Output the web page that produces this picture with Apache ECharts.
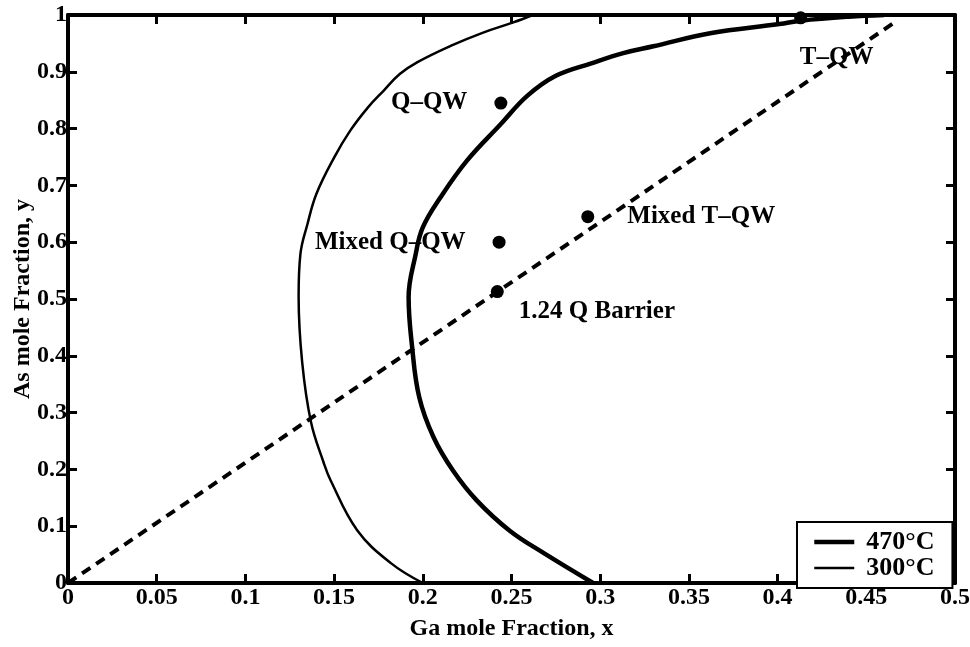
<!DOCTYPE html>
<html>
<head>
<meta charset="utf-8">
<title>InGaAsP composition</title>
<script src="https://cdn.jsdelivr.net/npm/echarts@6/dist/echarts.min.js"></script>
<style>
  html, body { margin: 0; padding: 0; background: #fff; }
  #chart { width: 970px; height: 647px; }
</style>
</head>
<body>
<div id="chart"></div>
<script>
// Boundary curve at 470°C (Ga fraction x, As fraction y)
const curve470X = [0.296, 0.268, 0.249, 0.2305, 0.217, 0.206, 0.198, 0.194, 0.192, 0.196, 0.200, 0.210, 0.225, 0.244, 0.259, 0.275, 0.295, 0.313, 0.330, 0.362, 0.401, 0.413, 0.440, 0.460];
const curve470Y = [0.000, 0.053, 0.092, 0.145, 0.198, 0.257, 0.327, 0.415, 0.503, 0.579, 0.626, 0.679, 0.744, 0.808, 0.858, 0.893, 0.915, 0.933, 0.945, 0.968, 0.984, 0.990, 0.997, 1.000];

// Boundary curve at 300°C
const curve300X = [0.200, 0.182, 0.163, 0.148, 0.144, 0.137, 0.132, 0.130, 0.131, 0.135, 0.140, 0.150, 0.159, 0.169, 0.178, 0.187, 0.197, 0.216, 0.234, 0.251, 0.262];
const curve300Y = [0.000, 0.035, 0.093, 0.181, 0.213, 0.283, 0.389, 0.505, 0.579, 0.632, 0.685, 0.749, 0.796, 0.837, 0.867, 0.896, 0.917, 0.946, 0.969, 0.987, 1.000];

// Lattice-matched composition line
const latticeX = [0, 0.465];
const latticeY = [0, 0.985];

// Marked compositions
const pointNames = ['Q–QW', 'Mixed Q–QW', '1.24 Q Barrier', 'Mixed T–QW', 'T–QW'];
const pointX = [0.244, 0.243, 0.242, 0.293, 0.413];
const pointY = [0.845, 0.600, 0.513, 0.645, 0.995];

// Axis ticks
const xTicks = { min: 0, max: 0.5, step: 0.05 };
const yTicks = { min: 0, max: 1, step: 0.1 };

const legendNames = ['470°C', '300°C'];
const legendLineWidths = [4.5, 2.5];

const FONT = '"Liberation Serif", "DejaVu Serif", serif';
const pairs = (xs, ys) => xs.map((x, i) => [x, ys[i]]);

// label placement for each marked point
const labelPlacement = [
  { position: 'left', offset: [-22, 0] },
  { position: 'left', offset: [-22, 0] },
  { position: 'right', offset: [10, 20] },
  { position: 'right', offset: [28, 0] },
  { position: 'bottom', offset: [36, 16] }
];

const axisLine = { show: true, onZero: false, lineStyle: { color: '#000', width: 4 } };
const tickIn = { show: true, inside: true, length: 9, lineStyle: { color: '#000', width: 3 } };

const chart = echarts.init(document.getElementById('chart'), null, { renderer: 'canvas' });

chart.setOption({
  animation: false,
  backgroundColor: '#fff',
  grid: { left: 68, right: 15, top: 15, bottom: 64, containLabel: false, outerBoundsMode: 'none' },
  legend: {
    data: legendNames.map((name, i) => ({ name, lineStyle: { width: legendLineWidths[i], color: '#000' } })),
    orient: 'vertical',
    left: 797,
    top: 522,
    padding: [7, 18, 7, 15],
    itemGap: 0,
    itemWidth: 40,
    itemHeight: 14,
    borderColor: '#000',
    borderWidth: 2,
    backgroundColor: '#fff',
    itemStyle: { opacity: 0 },
    textStyle: { fontFamily: FONT, fontSize: 26, fontWeight: 'bold', color: '#000', lineHeight: 26, padding: [0, 0, 0, 7] },
    selectedMode: false
  },
  xAxis: [
    {
      type: 'value', min: xTicks.min, max: xTicks.max, interval: xTicks.step,
      name: 'Ga mole Fraction, x', nameLocation: 'middle', nameGap: 34, nameMoveOverlap: false,
      nameTextStyle: { fontFamily: FONT, fontSize: 24, fontWeight: 'bold', color: '#000' },
      axisLine, axisTick: tickIn, splitLine: { show: false },
      axisLabel: { fontFamily: FONT, fontSize: 24, fontWeight: 'bold', color: '#000', margin: 3 }
    },
    {
      type: 'value', position: 'top', min: xTicks.min, max: xTicks.max, interval: xTicks.step,
      axisLine, axisTick: tickIn, splitLine: { show: false }, axisLabel: { show: false }
    }
  ],
  yAxis: [
    {
      type: 'value', min: yTicks.min, max: yTicks.max, interval: yTicks.step,
      name: 'As mole Fraction, y', nameLocation: 'middle', nameGap: 33, nameMoveOverlap: false,
      nameTextStyle: { fontFamily: FONT, fontSize: 24, fontWeight: 'bold', color: '#000' },
      axisLine, axisTick: tickIn, splitLine: { show: false },
      axisLabel: { fontFamily: FONT, fontSize: 24, fontWeight: 'bold', color: '#000', margin: 1 }
    },
    {
      type: 'value', position: 'right', min: yTicks.min, max: yTicks.max, interval: yTicks.step,
      axisLine, axisTick: tickIn, splitLine: { show: false }, axisLabel: { show: false }
    }
  ],
  series: [
    {
      name: legendNames[0], type: 'line', smooth: 0.4, symbol: 'none',
      data: pairs(curve470X, curve470Y),
      lineStyle: { color: '#000', width: 4.5 }, itemStyle: { color: '#000' }, z: 3
    },
    {
      name: legendNames[1], type: 'line', smooth: 0.4, symbol: 'none',
      data: pairs(curve300X, curve300Y),
      lineStyle: { color: '#000', width: 2.5 }, itemStyle: { color: '#000' }, z: 3
    },
    {
      name: 'lattice', type: 'line', symbol: 'none',
      data: pairs(latticeX, latticeY),
      lineStyle: { color: '#000', width: 4, type: [10, 7] }, z: 2
    },
    {
      name: 'points', type: 'scatter', symbol: 'circle', symbolSize: 13,
      itemStyle: { color: '#000', opacity: 1 }, z: 4,
      data: pointX.map((x, i) => ({
        value: [x, pointY[i]],
        label: {
          show: true, formatter: pointNames[i],
          position: labelPlacement[i].position, offset: labelPlacement[i].offset,
          fontFamily: FONT, fontSize: 25, fontWeight: 'bold', color: '#000'
        }
      }))
    }
  ]
});
</script>
</body>
</html>
